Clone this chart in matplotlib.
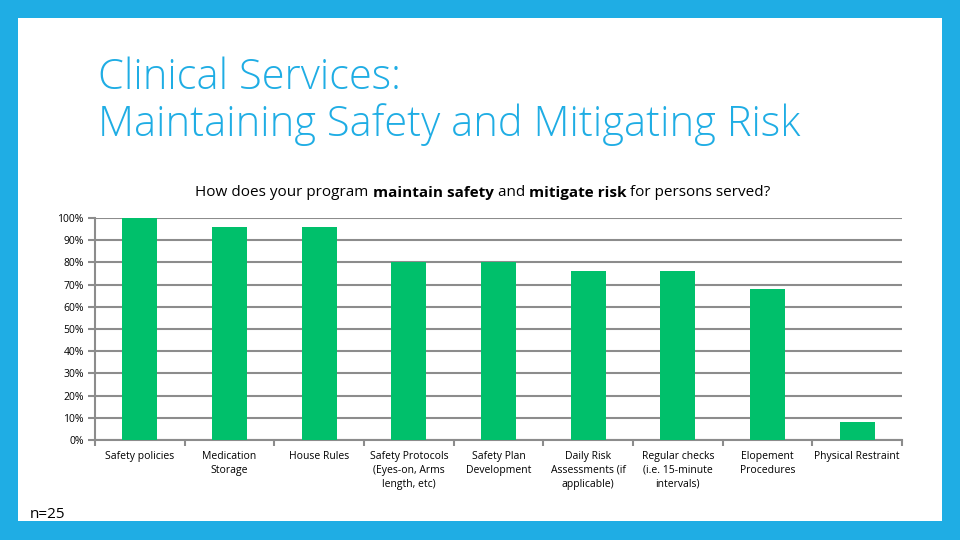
import numpy as np
import matplotlib.pyplot as plt
from matplotlib.patches import Rectangle
from matplotlib.offsetbox import TextArea, HPacker, AnchoredOffsetbox

categories = ['Safety policies', 'Medication\nStorage', 'House Rules',
              'Safety Protocols\n(Eyes-on, Arms\nlength, etc)', 'Safety Plan\nDevelopment',
              'Daily Risk\nAssessments (if\napplicable)', 'Regular checks\n(i.e. 15-minute\nintervals)',
              'Elopement\nProcedures', 'Physical Restraint']
values = [1.00, 0.96, 0.96, 0.80, 0.80, 0.76, 0.76, 0.68, 0.08]
yticks = [0, 0.1, 0.2, 0.3, 0.4, 0.5, 0.6, 0.7, 0.8, 0.9, 1.0]
ytick_labels = ['0%', '10%', '20%', '30%', '40%', '50%', '60%', '70%', '80%', '90%', '100%']

blue = '#1FADE4'
green = '#00C06B'
grid_gray = '#8C8C8C'
W, H = 960, 540

fig = plt.figure(figsize=(9.6, 5.4), dpi=100, facecolor=blue)
# white slide area inside the blue frame
fig.patches.append(Rectangle((18 / W, 1 - 521 / H), (942 - 18) / W, (521 - 18) / H,
                             transform=fig.transFigure, facecolor='white', edgecolor='none', zorder=-10))

fig.text(98 / W, 1 - 78 / H, 'Clinical Services:', color=blue, fontsize=30,
         family='Open Sans', fontweight='light', va='center', ha='left')
fig.text(98 / W, 1 - 125 / H, 'Maintaining Safety and Mitigating Risk', color=blue, fontsize=30,
         family='Open Sans', fontweight='light', va='center', ha='left')

# subtitle with bold parts
parts = [('How does your program ', 'normal'), ('maintain safety', 'bold'), (' and ', 'normal'),
         ('mitigate risk', 'bold'), (' for persons served?', 'normal')]
boxes = [TextArea(t, textprops=dict(fontsize=11, family='Open Sans', fontweight=w, color='black'))
         for t, w in parts]
pack = HPacker(children=boxes, pad=0, sep=0, align='baseline')
anch = AnchoredOffsetbox(loc='center', child=pack, frameon=False,
                         bbox_to_anchor=(483 / W, 1 - 193 / H), bbox_transform=fig.transFigure, pad=0)
fig.add_artist(anch)

ax = fig.add_axes([95 / W, 1 - 440 / H, (902 - 95) / W, (440 - 218) / H])
x = np.arange(len(categories))
ax.bar(x, values, width=0.39, color=green, zorder=3)
ax.set_xlim(-0.5, len(categories) - 0.5)
ax.set_ylim(0, 1.0)
ax.set_yticks(yticks)
ax.set_yticklabels(ytick_labels, fontsize=7.5, family='Open Sans')
ax.yaxis.grid(True, color=grid_gray, linewidth=1.5, zorder=0)
ax.set_axisbelow(True)

ax.set_xticks(np.arange(len(categories) + 1) - 0.5)
ax.set_xticklabels([])
ax.set_xticks(x, minor=True)
ax.set_xticklabels(categories, minor=True, fontsize=7.5, family='Open Sans', va='top', linespacing=1.35)
ax.tick_params(axis='x', which='minor', length=0, pad=8)
ax.tick_params(axis='x', which='major', length=4, width=1.5, color=grid_gray)
ax.tick_params(axis='y', length=5, width=1.5, color=grid_gray, pad=3)

for s in ['top', 'right']:
    ax.spines[s].set_visible(False)
for s in ['left', 'bottom']:
    ax.spines[s].set_color(grid_gray)
    ax.spines[s].set_linewidth(1.5)

fig.text(30 / W, 1 - 514 / H, 'n=25', fontsize=11, family='Open Sans', va='center', ha='left')

fig.savefig('out.png', dpi=100, facecolor=blue)
